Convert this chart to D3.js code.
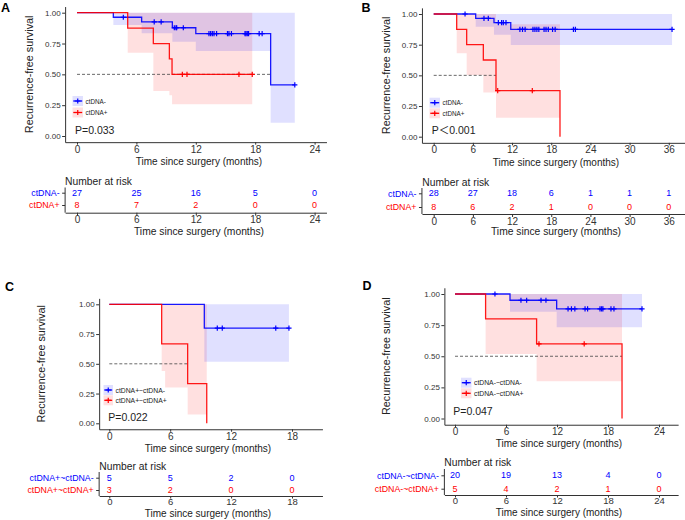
<!DOCTYPE html>
<html><head><meta charset="utf-8">
<script src="https://cdn.jsdelivr.net/npm/d3@7"></script>
<style>
body{margin:0;background:#fff;}
text{font-family:"Liberation Sans",Arial,Helvetica,"Noto Sans CJK SC",sans-serif;}
</style>
</head><body>
<svg id="c" width="685" height="520"></svg>
<script>
// ---------------- DATA ----------------
const yTicks = [0, 0.25, 0.5, 0.75, 1];
const aTicks = [0, 6, 12, 18, 24];
const bTicks = [0, 6, 12, 18, 24, 30, 36];
const cTicks = [0, 6, 12, 18];
const dTicks = [0, 6, 12, 18, 24];

// Panel A
const aNegTime  = [0, 3.67, 6.53, 9.63, 12.0, 19.56, 22.0];
const aNegSurv  = [1, 0.963, 0.926, 0.878, 0.830, 0.415, 0.415];
const aNegLower = [1, 0.90, 0.833, 0.765, 0.69, 0.108, 0.108];
const aNegUpper = [1, 1, 1, 1, 1, 1, 1];
const aNegCensor = [4.68, 7.8, 8.5, 9.83, 10.0, 10.07, 10.74, 13.33, 13.5, 13.67, 13.84, 14.1, 15.2, 15.35, 15.6, 16.97, 17.07, 17.2, 17.33, 18.4, 18.7, 22.0];
const aPosTime  = [0, 5.12, 7.71, 9.33, 9.6, 17.7];
const aPosSurv  = [1, 0.875, 0.75, 0.625, 0.5, 0.5];
const aPosLower = [1, 0.676, 0.365, 0.33, 0.257, 0.257];
const aPosUpper = [1, 1, 1, 1, 1, 1];
const aPosCensor = [10.64, 11.11, 16.36, 17.7];
const aRiskNeg = [27, 25, 16, 5, 0];
const aRiskPos = [8, 7, 2, 0, 0];
const aLabels = ["ctDNA-", "ctDNA+"];
const aMedian = 19.56;
const aP = "P=0.033";

// Panel B
const bNegTime  = [0, 6.43, 9.23, 11.8, 36.5];
const bNegSurv  = [1, 0.964, 0.929, 0.875, 0.875];
const bNegLower = [1, 0.896, 0.83, 0.747, 0.747];
const bNegUpper = [1, 1, 1, 1, 1];
const bNegCensor = [4.8, 7.7, 8.36, 9.9, 10.4, 10.66, 11.07, 13.2, 13.6, 14.0, 15.2, 15.5, 15.8, 16.1, 16.9, 17.2, 17.55, 18.2, 18.6, 21.4, 21.7, 36.5];
const bPosTime  = [0, 3.52, 5.05, 7.6, 9.54, 19.34];
const bPosSurv  = [1, 0.875, 0.75, 0.625, 0.375, 0];
const bPosLower = [1, 0.68, 0.503, 0.36, 0.155, 0.155];
const bPosUpper = [1, 1, 1, 1, 0.916, 0.916];
const bPosCensor = [9.8, 15.1];
const bRiskNeg = [28, 27, 18, 6, 1, 1, 1];
const bRiskPos = [8, 6, 2, 1, 0, 0, 0];
const bLabels = ["ctDNA-", "ctDNA+"];
const bMedian = 9.54;
const bP = "P＜0.001";

// Panel C
const cNegTime  = [0, 9.36, 17.7];
const cNegSurv  = [1, 0.8, 0.8];
const cNegLower = [1, 0.518, 0.518];
const cNegUpper = [1, 1, 1];
const cNegCensor = [10.64, 11.13, 16.4, 17.7];
const cPosTime  = [0, 5.16, 5.5, 7.72, 9.6];
const cPosSurv  = [1, 0.667, 0.667, 0.333, 0];
const cPosLower = [1, 0.44, 0.30, 0.075, 0.075];
const cPosUpper = [1, 1, 1, 1, 1];
const cPosCensor = [];
const cRiskNeg = [5, 5, 2, 0];
const cRiskPos = [3, 2, 0, 0];
const cLabels = ["ctDNA+~ctDNA-", "ctDNA+~ctDNA+"];
const cMedian = 7.72;
const cP = "P=0.022";

// Panel D
const dNegTime  = [0, 6.47, 11.96, 22.0];
const dNegSurv  = [1, 0.95, 0.88, 0.88];
const dNegLower = [1, 0.858, 0.733, 0.733];
const dNegUpper = [1, 1, 1, 1];
const dNegCensor = [4.7, 7.76, 8.43, 10.12, 10.7, 13.3, 13.7, 14.1, 15.3, 15.6, 17.06, 17.25, 17.4, 18.35, 18.7, 22.0];
const dPosTime  = [0, 3.6, 9.6, 19.65];
const dPosSurv  = [1, 0.8, 0.6, 0];
const dPosLower = [1, 0.518, 0.30, 0.30];
const dPosUpper = [1, 1, 1, 1];
const dPosCensor = [9.88, 15.2];
const dRiskNeg = [20, 19, 13, 4, 0];
const dRiskPos = [5, 4, 2, 1, 0];
const dLabels = ["ctDNA-~ctDNA-", "ctDNA-~ctDNA+"];
const dMedian = 19.65;
const dP = "P=0.047";

// ---------------- DRAWING ----------------
const svg = d3.select("#c");
const BLUE = "#0000ff", RED = "#ff0000";
const AX = "#333";

function survAt(times, surv, t) {
  let s = surv[0];
  for (let i = 0; i < times.length; i++) if (times[i] <= t) s = surv[i];
  return s;
}
function styleAxis(g, fs) {
  g.select(".domain").attr("stroke", AX).attr("stroke-width", 1);
  g.selectAll(".tick line").attr("stroke", AX).attr("stroke-width", 1);
  g.selectAll(".tick text").attr("fill", AX).attr("font-size", fs)
    .attr("font-family", "'Liberation Sans', Arial, sans-serif");
}
const plusPath = "M-2.6,0H2.6M0,-2.6V2.6";

function drawPanel(L, D) {
  const x = d3.scaleLinear().domain(L.xlim)
    .range([L.x0 + L.xlim[0] * L.k, L.x0 + L.xlim[1] * L.k]);
  const span = L.yZero - L.yOne;
  const y = d3.scaleLinear().domain([-0.05, 1.05])
    .range([L.yZero + 0.05 * span, L.yOne - 0.05 * span]);
  const g = svg.append("g");

  const series = [
    { c: BLUE, time: D.negTime, surv: D.negSurv, lo: D.negLower, hi: D.negUpper, cens: D.negCensor },
    { c: RED,  time: D.posTime, surv: D.posSurv, lo: D.posLower, hi: D.posUpper, cens: D.posCensor }
  ];
  const area = d3.area().curve(d3.curveStepAfter)
    .x(d => x(d.t)).y0(d => y(d.lo)).y1(d => y(d.hi));
  const line = d3.line().curve(d3.curveStepAfter).x(d => x(d.t)).y(d => y(d.s));

  [series[1], series[0]].forEach(s => {
    const pts = s.time.map((t, i) => ({ t, lo: s.lo[i], hi: s.hi[i] }));
    g.append("path").attr("d", area(pts)).attr("fill", s.c).attr("fill-opacity", 0.12);
  });

  g.append("line").attr("x1", x(0)).attr("x2", x(D.median))
    .attr("y1", y(0.5)).attr("y2", y(0.5))
    .attr("stroke", "#444").attr("stroke-width", 0.8).attr("stroke-dasharray", "3,2");

  series.forEach(s => {
    const pts = s.time.map((t, i) => ({ t, s: s.surv[i] }));
    g.append("path").attr("d", line(pts)).attr("fill", "none")
      .attr("stroke", s.c).attr("stroke-width", 1.3).attr("stroke-opacity", 0.9);
    g.selectAll(null).data(s.cens).enter().append("path")
      .attr("d", plusPath)
      .attr("transform", t => `translate(${x(t)},${y(survAt(s.time, s.surv, t))})`)
      .attr("stroke", s.c).attr("stroke-width", 1.2).attr("fill", "none");
  });

  const xAxis = d3.axisBottom(x).tickValues(D.ticks).tickFormat(d3.format("d"))
    .tickSize(2.5).tickPadding(1).tickSizeOuter(0);
  const gx = g.append("g").attr("transform", `translate(0,${y(-0.05)})`).call(xAxis);
  styleAxis(gx, 10);
  const yAxis = d3.axisLeft(y).tickValues(yTicks).tickFormat(d3.format(".2f"))
    .tickSize(3).tickPadding(1.5).tickSizeOuter(0);
  const gy = g.append("g").attr("transform", `translate(${x(L.xlim[0])},0)`).call(yAxis);
  styleAxis(gy, 8);

  g.append("text").text("Time since surgery (months)")
    .attr("x", L.titleX).attr("y", L.xTitleY).attr("text-anchor", "middle")
    .attr("dominant-baseline", "central").attr("font-size", 10).attr("fill", "#222");
  g.append("text").text("Recurrence-free survival")
    .attr("transform", `translate(${L.yTitleX},${(y(-0.05) + y(1.05)) / 2}) rotate(-90)`)
    .attr("text-anchor", "middle").attr("dominant-baseline", "central")
    .attr("font-size", 10.8).attr("fill", "#222");

  g.append("text").text(L.label).attr("x", L.labelX).attr("y", L.labelY)
    .attr("font-size", 12.5).attr("font-weight", "bold").attr("fill", "#000");

  g.append("text").text(D.p).attr("x", L.pX).attr("y", L.pY)
    .attr("font-size", 10.5).attr("fill", "#222");

  series.forEach((s, i) => {
    const ly = L.legRows[i];
    g.append("rect").attr("x", L.legX).attr("y", ly - 5).attr("width", L.legW).attr("height", 10)
      .attr("fill", s.c).attr("fill-opacity", 0.12);
    g.append("line").attr("x1", L.legX + 0.8).attr("x2", L.legX + L.legW - 0.8)
      .attr("y1", ly).attr("y2", ly).attr("stroke", s.c).attr("stroke-width", 1.3);
    g.append("path").attr("d", plusPath)
      .attr("transform", `translate(${L.legX + L.legW / 2},${ly})`)
      .attr("stroke", s.c).attr("stroke-width", 1.2);
    g.append("text").text(D.labels[i]).attr("x", L.legX + L.legW + 2.5).attr("y", ly)
      .attr("dominant-baseline", "central").attr("font-size", L.legFont).attr("fill", "#222");
  });

  // ---- risk table ----
  const rg = svg.append("g");
  rg.append("text").text("Number at risk").attr("x", L.riskHeadX).attr("y", L.riskHeadY)
    .attr("dominant-baseline", "central").attr("font-size", 10.3).attr("fill", "#222");
  const ry = d3.scalePoint().domain(D.labels).range(L.riskRows);
  const gry = rg.append("g").attr("transform", `translate(${x(L.xlim[0])},0)`)
    .call(d3.axisLeft(ry).tickSize(3).tickPadding(2.5));
  gry.select(".domain").remove();
  gry.selectAll(".tick line").attr("stroke", AX);
  gry.selectAll(".tick text").attr("font-size", 8.8)
    .attr("font-family", "'Liberation Sans', Arial, sans-serif")
    .attr("fill", (d, i) => i === 0 ? BLUE : RED);
  rg.append("line").attr("x1", x(L.xlim[0])).attr("x2", x(L.xlim[0]))
    .attr("y1", L.riskTop).attr("y2", L.riskAxisY).attr("stroke", AX);
  [D.riskNeg, D.riskPos].forEach((vals, i) => {
    rg.selectAll(null).data(vals).enter().append("text")
      .text(v => v)
      .attr("x", (v, j) => x(D.ticks[j])).attr("y", ry(D.labels[i]))
      .attr("text-anchor", "middle").attr("dominant-baseline", "central")
      .attr("font-size", 9).attr("fill", i === 0 ? BLUE : RED);
  });
  const grx = rg.append("g").attr("transform", `translate(0,${L.riskAxisY})`)
    .call(d3.axisBottom(x).tickValues(D.ticks).tickFormat(d3.format("d"))
      .tickSize(L.riskTickSize).tickPadding(L.riskTickPad).tickSizeOuter(0));
  styleAxis(grx, L.riskTickFont);
  rg.append("text").text("Time since surgery (months)")
    .attr("x", L.titleX).attr("y", L.riskTitleY).attr("text-anchor", "middle")
    .attr("dominant-baseline", "central").attr("font-size", L.riskTitleFont).attr("fill", "#222");
}

drawPanel(
  { x0: 77, k: 9.9, xlim: [-1.2, 25.2], yOne: 12.7, yZero: 136, titleX: 199, xTitleY: 161.2,
    yTitleX: 29, label: "A", labelX: 1, labelY: 12, pX: 75, pY: 134,
    legX: 72.5, legW: 10.5, legRows: [101, 112.5], legFont: 6.3,
    riskHeadX: 65, riskHeadY: 181, riskRows: [192.7, 205], riskTop: 187.5, riskAxisY: 212.7, riskTitleY: 231.5,
    riskTickSize: 3, riskTickPad: 0.5, riskTickFont: 10, riskTitleFont: 10.3 },
  { negTime: aNegTime, negSurv: aNegSurv, negLower: aNegLower, negUpper: aNegUpper, negCensor: aNegCensor,
    posTime: aPosTime, posSurv: aPosSurv, posLower: aPosLower, posUpper: aPosUpper, posCensor: aPosCensor,
    ticks: aTicks, riskNeg: aRiskNeg, riskPos: aRiskPos, labels: aLabels, median: aMedian, p: aP });

drawPanel(
  { x0: 433.7, k: 6.53, xlim: [-1.8, 38.8], yOne: 14, yZero: 136.7, titleX: 556, xTitleY: 162.3,
    yTitleX: 386, label: "B", labelX: 361.5, labelY: 12.3, pX: 431.7, pY: 134.3,
    legX: 429.5, legW: 10.5, legRows: [102.7, 113.3], legFont: 6.3,
    riskHeadX: 422.3, riskHeadY: 182, riskRows: [193.3, 207], riskTop: 188, riskAxisY: 214, riskTitleY: 231.5,
    riskTickSize: 3, riskTickPad: 0.5, riskTickFont: 10, riskTitleFont: 10.3 },
  { negTime: bNegTime, negSurv: bNegSurv, negLower: bNegLower, negUpper: bNegUpper, negCensor: bNegCensor,
    posTime: bPosTime, posSurv: bPosSurv, posLower: bPosLower, posUpper: bPosUpper, posCensor: bPosCensor,
    ticks: bTicks, riskNeg: bRiskNeg, riskPos: bRiskPos, labels: bLabels, median: bMedian, p: bP });

drawPanel(
  { x0: 109.3, k: 10.15, xlim: [-1, 21], yOne: 304.3, yZero: 423.3, titleX: 208, xTitleY: 448.3,
    yTitleX: 41, label: "C", labelX: 5, labelY: 290.7, pX: 108.3, pY: 421,
    legX: 103.5, legW: 9.5, legRows: [390, 400.3], legFont: 6.8,
    riskHeadX: 99.3, riskHeadY: 466.7, riskRows: [477.7, 490], riskTop: 472, riskAxisY: 496, riskTitleY: 513.5,
    riskTickSize: 2.5, riskTickPad: 0, riskTickFont: 9.5, riskTitleFont: 10 },
  { negTime: cNegTime, negSurv: cNegSurv, negLower: cNegLower, negUpper: cNegUpper, negCensor: cNegCensor,
    posTime: cPosTime, posSurv: cPosSurv, posLower: cPosLower, posUpper: cPosUpper, posCensor: cPosCensor,
    ticks: cTicks, riskNeg: cRiskNeg, riskPos: cRiskPos, labels: cLabels, median: cMedian, p: cP });

drawPanel(
  { x0: 455, k: 8.5, xlim: [-1.25, 26.25], yOne: 294, yZero: 418.5, titleX: 559, xTitleY: 443.8,
    yTitleX: 386, label: "D", labelX: 362.5, labelY: 290, pX: 453.3, pY: 415,
    legX: 461, legW: 10.5, legRows: [382.7, 393.3], legFont: 6.8,
    riskHeadX: 444.3, riskHeadY: 462.7, riskRows: [475.3, 488.7], riskTop: 469, riskAxisY: 495, riskTitleY: 512.5,
    riskTickSize: 2.5, riskTickPad: 0, riskTickFont: 9.5, riskTitleFont: 10 },
  { negTime: dNegTime, negSurv: dNegSurv, negLower: dNegLower, negUpper: dNegUpper, negCensor: dNegCensor,
    posTime: dPosTime, posSurv: dPosSurv, posLower: dPosLower, posUpper: dPosUpper, posCensor: dPosCensor,
    ticks: dTicks, riskNeg: dRiskNeg, riskPos: dRiskPos, labels: dLabels, median: dMedian, p: dP });
</script>
</body></html>
